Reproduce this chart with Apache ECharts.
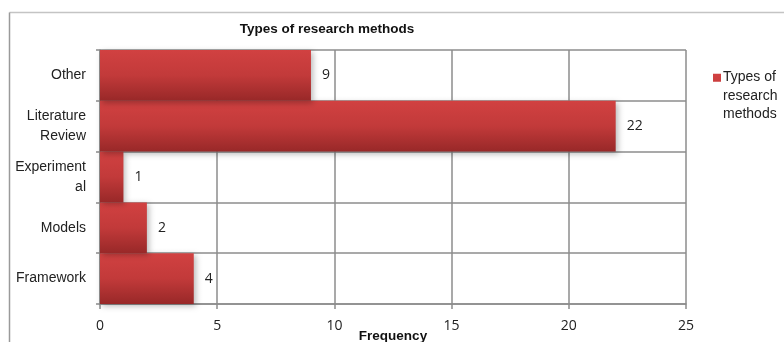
<!DOCTYPE html>
<html>
<head>
<meta charset="utf-8">
<script src="https://cdn.jsdelivr.net/npm/echarts@6/dist/echarts.min.js"></script>
<style>
  html, body { margin: 0; padding: 0; background: #fff; }
  #chart { width: 784px; height: 342px; }
</style>
</head>
<body>
<div id="chart"></div>
<script>
// Research method categories, listed bottom to top on the vertical axis
const categories = ['Framework', 'Models', 'Experiment\nal', 'Literature\nReview', 'Other'];
// Number of studies per method
const frequencies = [4, 2, 1, 22, 9];
// Horizontal axis ticks
const xTicks = [0, 5, 10, 15, 20, 25];
const seriesName = 'Types of research methods';

const sans = '"Liberation Sans", Arial, sans-serif';
const gridColor = '#8c8c8c';

// Legend swatch: square at the top of a tall box so it sits beside the first text line
const swatchIcon = 'path://M0,0L8,0L8,8L0,8Z M0,44L0.01,44';

const chart = echarts.init(document.getElementById('chart'), null, { renderer: 'canvas' });

chart.setOption({
  backgroundColor: '#ffffff',
  animation: false,
  title: {
    text: 'Types of research methods',
    left: 322,
    textAlign: 'center',
    top: 17,
    textStyle: { fontFamily: sans, fontSize: 13.5, fontWeight: 'bold', color: '#111' }
  },
  legend: {
    orient: 'vertical',
    left: 708,
    top: 63,
    itemWidth: 8,
    itemHeight: 44,
    itemGap: 4,
    icon: swatchIcon,
    formatter: () => 'Types of\nresearch\nmethods',
    textStyle: { fontFamily: sans, fontSize: 14, color: '#222', lineHeight: 18.5, padding: [0, 0, 0, -3] },
    data: [seriesName]
  },
  graphic: [
    // outer chart-area frame
    { type: 'line', shape: { x1: 9.5, y1: 12.5, x2: 784, y2: 12.5 }, style: { stroke: '#c4c4c4', lineWidth: 1.5 } },
    { type: 'line', shape: { x1: 9.5, y1: 12.5, x2: 9.5, y2: 342 }, style: { stroke: '#9a9a9a', lineWidth: 1.5 } }
  ],
  grid: { left: 100, right: 98, top: 50, bottom: 38, containLabel: false, outerBoundsMode: 'none' },
  xAxis: {
    type: 'value',
    min: xTicks[0],
    max: xTicks[xTicks.length - 1],
    interval: xTicks[1] - xTicks[0],
    name: 'Frequency',
    nameLocation: 'middle',
    nameGap: 25,
    nameMoveOverlap: false,
    nameTextStyle: { fontFamily: sans, fontSize: 13.5, fontWeight: 'bold', color: '#111', verticalAlign: 'top' },
    axisLine: { show: true, lineStyle: { color: gridColor, width: 1.5 } },
    axisTick: { show: true, length: 5, lineStyle: { color: gridColor, width: 1.5 } },
    axisLabel: { fontFamily: '"Open Sans", "Liberation Sans", sans-serif', fontSize: 14, color: '#222', margin: 15 },
    splitLine: { show: true, lineStyle: { color: gridColor, width: 1.5 } }
  },
  yAxis: {
    type: 'category',
    data: categories,
    axisLine: { show: true, lineStyle: { color: gridColor, width: 1.5 } },
    axisTick: { show: true, length: 4, lineStyle: { color: gridColor, width: 1.5 } },
    axisLabel: { fontFamily: sans, fontSize: 14, color: '#222', margin: 14, lineHeight: 19.5, align: 'right', padding: [5, 0, 0, 0] },
    splitLine: { show: true, lineStyle: { color: gridColor, width: 1.5 } }
  },
  series: [{
    name: seriesName,
    type: 'bar',
    data: frequencies,
    barCategoryGap: '0%',
    itemStyle: {
      color: new echarts.graphic.LinearGradient(0, 0, 0, 1, [
        { offset: 0, color: '#d14141' },
        { offset: 0.5, color: '#c23a3a' },
        { offset: 1, color: '#982828' }
      ]),
      shadowColor: 'rgba(0,0,0,0.28)',
      shadowBlur: 6,
      shadowOffsetX: 2,
      shadowOffsetY: 2
    },
    label: {
      show: true,
      position: 'right',
      distance: 11,
      fontFamily: '"Open Sans", "Liberation Sans", sans-serif',
      fontSize: 14,
      color: '#222'
    }
  }]
});
</script>
</body>
</html>
